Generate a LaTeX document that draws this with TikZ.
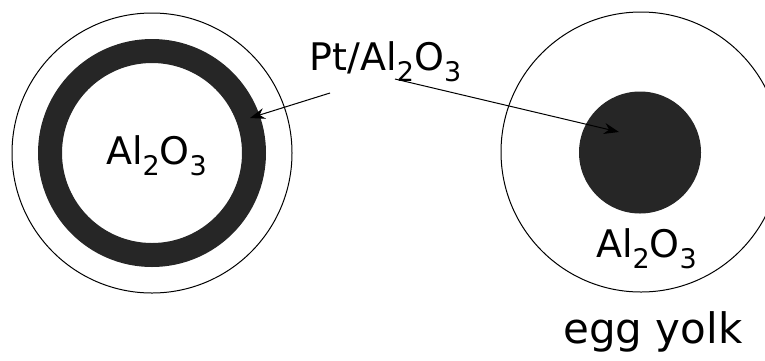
\documentclass[tikz,border=0pt]{standalone}
\usepackage{fontspec}
\setmainfont{DejaVu Sans}
\usetikzlibrary{arrows.meta}
\definecolor{darkfill}{HTML}{262626}
\newcommand\chemsub[1]{\raisebox{-0.29em}{\fontsize{27}{27}\selectfont #1}}
\tikzset{
  thinline/.style={draw=black, line width=1pt},
  label38/.style={font=\fontsize{38}{40}\selectfont, inner sep=0pt, anchor=base},
  label42/.style={font=\fontsize{42}{44}\selectfont, inner sep=0pt, anchor=base},
  pointer/.style={draw=black, line width=1pt, -{Stealth[length=15pt,width=11pt]}}
}
\begin{document}
\begin{tikzpicture}[x=1pt,y=-1pt]
\useasboundingbox (0,0) rectangle (765,360);
\clip (0,0) rectangle (765,360);
% left particle (eggshell)
\coordinate (cL) at (152,153);
\draw[thinline] (cL) circle (140pt);
\fill[darkfill, even odd rule] (cL) circle (114pt) (cL) circle (90pt);
\node[label38] (alL) at (156.5,164) {Al\chemsub{2}O\chemsub{3}};
% right particle (egg yolk)
\coordinate (cR) at (641,152);
\draw[thinline] (cR) circle (140pt);
\fill[darkfill] (640,152.5) circle (61pt);
\node[label38] (alR) at (646.5,257) {Al\chemsub{2}O\chemsub{3}};
\node[label42] (egg) at (653,343) {egg yolk};
% label and pointers
\node[label38] (pt) at (385.5,70) {Pt/Al\chemsub{2}O\chemsub{3}};
\coordinate (s1) at (330,93);
\coordinate (t1) at (250,118);
\coordinate (s2) at (395,79);
\coordinate (t2) at (619,132);
\draw[pointer] (s1) -- (t1);
\draw[pointer] (s2) -- (t2);
\end{tikzpicture}
\end{document}
